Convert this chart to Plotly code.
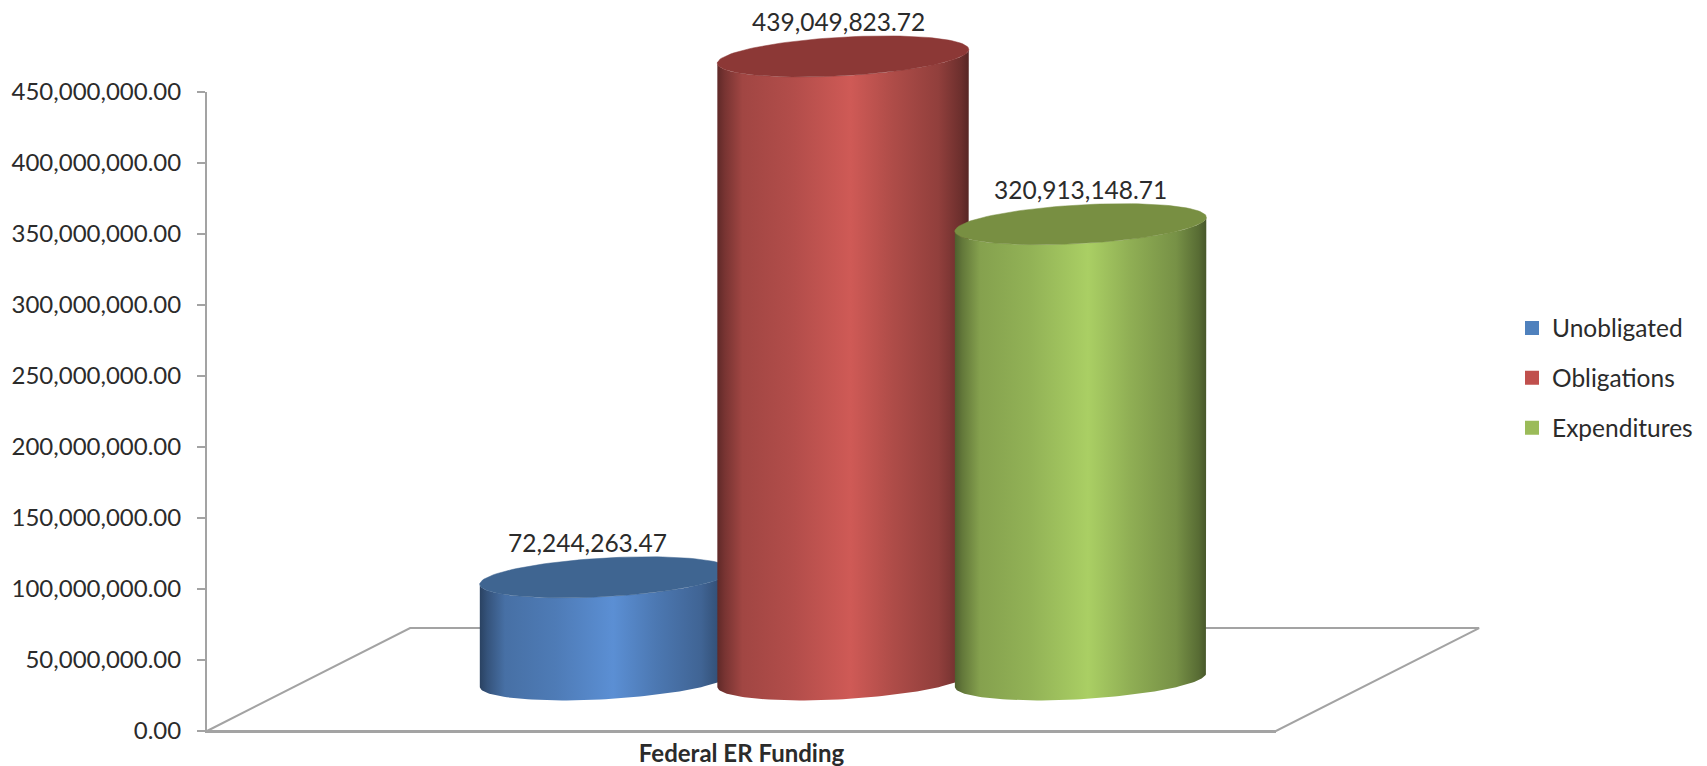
import numpy as np
import plotly.graph_objects as go

# ---- data ----
categories = ["Federal ER Funding"]
series_names = ["Unobligated", "Obligations", "Expenditures"]
unobligated = [72244263.47]
obligations = [439049823.72]
expenditures = [320913148.71]
y_ticks = list(range(0, 450000001, 50000000))

# ---- styling ----
W, H = 1707, 766
PX_L, PX_R, PX_T, PX_B = 207, 1276, 92, 731     # inner axis box, in page pixels
legend_colors = ["#4F81BD", "#C0504D", "#9BBB59"]
peak_colors = [(91, 143, 212), (207, 90, 86), (170, 207, 100)]
top_colors = ["#3F6591", "#8C3836", "#788F42"]
TEXT = "#2B2B2B"
GREY = "#A3A3A3"
FONT = "Lato"

CENTER0, STEP, HALF_W = 0.3728, 0.2222, 0.1176      # x axis units (category spans 0..1)
BASE = 36e6            # floor offset of the cylinder base, in axis units
ELL_H = 13.6e6         # ellipse half height
ELL_SKEW = 4.9e6       # ellipse tilt
DEPTH_X, DEPTH_Y = 0.19, 72.5e6
label_dx = [-18, -5, 0]
label_dy = 35
STOPS_U = [0, 0.03, 0.10, 0.30, 0.53, 0.70, 0.88, 0.97, 1.0]
STOPS_F = [0.46, 0.58, 0.78, 0.86, 1.0, 0.84, 0.70, 0.52, 0.42]
YMAX = 450000000

x_per_px = 1.0 / (PX_R - PX_L)
y_per_px = YMAX / (PX_B - PX_T)
x2_range = [-PX_L * x_per_px, (W - PX_L) * x_per_px]
y2_range = [-(H - PX_B) * y_per_px, PX_B * y_per_px]


def shade(rgb, f):
    return "rgb(%d,%d,%d)" % tuple(int(round(c * f)) for c in rgb)


fig = go.Figure()

# an empty trace keeps the visible axes alive
fig.add_trace(go.Scatter(x=[None], y=[None], xaxis="x", yaxis="y", showlegend=False, hoverinfo="skip"))

# floor
fig.add_trace(go.Scatter(
    x=[0, DEPTH_X, 1 + DEPTH_X, 1, 0], y=[0, DEPTH_Y, DEPTH_Y, 0, 0],
    xaxis="x2", yaxis="y2", mode="lines", line=dict(color=GREY, width=2),
    showlegend=False, hoverinfo="skip"))

values = [unobligated[0], obligations[0], expenditures[0]]
for i, (name, v) in enumerate(zip(series_names, values)):
    cx = CENTER0 + i * STEP
    cy_top = BASE + v
    ts = np.linspace(np.pi, 0, 81)
    xs = cx + HALF_W * np.cos(ts)
    front = -ELL_H * np.sin(ts) + ELL_SKEW * np.cos(ts)
    fig.add_trace(go.Scatter(
        x=np.concatenate([xs, xs[::-1], xs[:1]]),
        y=np.concatenate([cy_top + front, (BASE + front)[::-1], [cy_top + front[0]]]),
        xaxis="x2", yaxis="y2", mode="lines", fill="toself",
        fillgradient=dict(
            type="horizontal", start=cx - HALF_W, stop=cx + HALF_W,
            colorscale=[[u, shade(peak_colors[i], f)] for u, f in zip(STOPS_U, STOPS_F)]),
        line=dict(width=0), showlegend=False, hoverinfo="skip"))
    # top ellipse
    ts = np.linspace(0, 2 * np.pi, 121)
    fig.add_trace(go.Scatter(
        x=cx + HALF_W * np.cos(ts),
        y=cy_top + ELL_H * np.sin(ts) + ELL_SKEW * np.cos(ts),
        xaxis="x2", yaxis="y2", mode="lines", fill="toself", fillcolor=top_colors[i],
        line=dict(color=top_colors[i], width=0.5), showlegend=False, hoverinfo="skip"))
    # value label
    fig.add_annotation(
        x=cx, y=cy_top, xref="x2", yref="y2", text=f"{v:,.2f}", showarrow=False,
        xshift=label_dx[i], yshift=label_dy,
        font=dict(family=FONT, size=24.5, color=TEXT))
    # legend entry
    fig.add_trace(go.Scatter(
        x=[None], y=[None], xaxis="x", yaxis="y", mode="markers", name=name, legendgroup=name,
        marker=dict(symbol="square", size=14, color=legend_colors[i]),
        hoverinfo="skip"))

fig.update_layout(
    template="none",
    width=W, height=H, autosize=False,
    margin=dict(l=0, r=0, t=0, b=0),
    paper_bgcolor="white", plot_bgcolor="rgba(0,0,0,0)",
    font=dict(family=FONT, size=24, color=TEXT),
    xaxis=dict(domain=[PX_L / W, PX_R / W], range=[0, 1], tickvals=[0.5],
               ticktext=[f"<b>{categories[0]}</b>"], automargin=False,
               showgrid=False, zeroline=False, showline=True, linecolor=GREY,
               linewidth=2, ticks="", anchor="y",
               tickfont=dict(family=FONT, size=24, color=TEXT)),
    yaxis=dict(domain=[(H - PX_B) / H, (H - PX_T) / H], range=[0, YMAX], tickvals=y_ticks,
               tickformat=",.2f", automargin=False, anchor="x",
               showgrid=False, zeroline=False, showline=True, linecolor=GREY,
               linewidth=2, ticks="outside", ticklen=8, tickwidth=2, tickcolor=GREY,
               ticklabelstandoff=11,
               tickfont=dict(family=FONT, size=24, color=TEXT)),
    xaxis2=dict(domain=[0, 1], range=x2_range, visible=False, anchor="y2", automargin=False),
    yaxis2=dict(domain=[0, 1], range=y2_range, visible=False, anchor="x2", automargin=False),
    legend=dict(x=1512 / W, xanchor="left", y=1 - 378 / H, yanchor="middle", tracegroupgap=15,
                itemclick=False, itemdoubleclick=False,
                font=dict(family=FONT, size=24.5, color=TEXT), bgcolor="rgba(0,0,0,0)"),
)

fig.write_html("out.html", config={"displayModeBar": False},
               post_script="document.body.style.margin='0';document.body.style.overflow='hidden';")
